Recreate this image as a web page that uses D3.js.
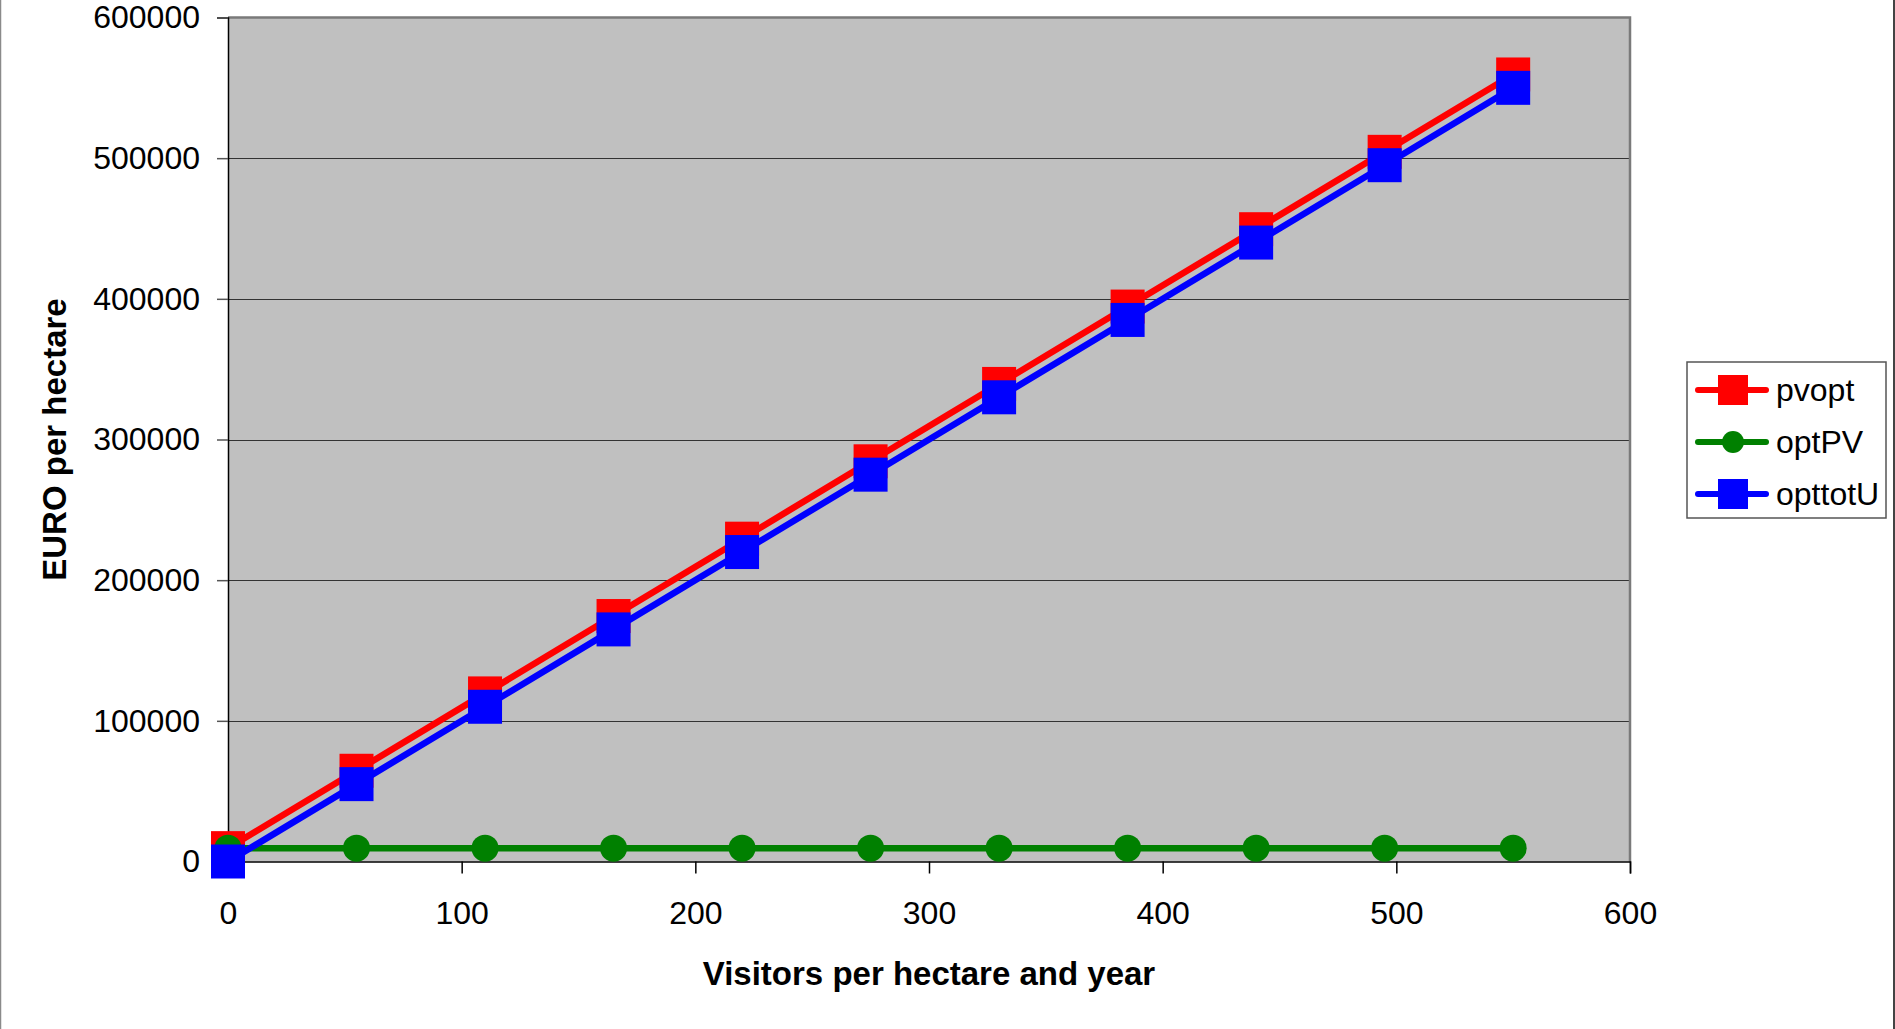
<!DOCTYPE html>
<html>
<head>
<meta charset="utf-8">
<script src="https://cdn.jsdelivr.net/npm/d3@7"></script>
<style>
  html, body { margin: 0; padding: 0; background: #ffffff; }
  svg { display: block; font-family: "Liberation Sans", Arial, sans-serif; }
</style>
</head>
<body>
<svg id="chart" width="1895" height="1029"></svg>
<script>
// Visitors per hectare and year
const visitors = [0, 55, 110, 165, 220, 275, 330, 385, 440, 495, 550];
// Series values (EURO per hectare)
const pvopt    = [9500, 64500, 119500, 174500, 229500, 284500, 339500, 394500, 449500, 504500, 559500];
const optPV    = [9500, 9500, 9500, 9500, 9500, 9500, 9500, 9500, 9500, 9500, 9500];
const opttotU  = [0, 55000, 110000, 165000, 220000, 275000, 330000, 385000, 440000, 495000, 550000];
// Axis ticks
const xTicks = [0, 100, 200, 300, 400, 500, 600];
const yTicks = [0, 100000, 200000, 300000, 400000, 500000, 600000];

const series = [
  { name: "pvopt",   values: pvopt,   color: "#ff0000", marker: "square" },
  { name: "optPV",   values: optPV,   color: "#008000", marker: "circle" },
  { name: "opttotU", values: opttotU, color: "#0000ff", marker: "square" }
];

const svg = d3.select("#chart");
const plot = { left: 228, right: 1630, top: 17.5, bottom: 861.5 };

const x = d3.scaleLinear().domain([0, 600]).range([plot.left, plot.right]);
const y = d3.scaleLinear().domain([0, 600000]).range([plot.bottom, plot.top]);

// outer frame edges
svg.append("line").attr("x1", 0.5).attr("x2", 0.5).attr("y1", 0).attr("y2", 1029)
  .attr("stroke", "#8a8a8a").attr("stroke-width", 1.5);
svg.append("line").attr("x1", 1894).attr("x2", 1894).attr("y1", 0).attr("y2", 1029)
  .attr("stroke", "#444").attr("stroke-width", 2);

// plot area
svg.append("rect")
  .attr("x", plot.left).attr("y", plot.top)
  .attr("width", plot.right - plot.left).attr("height", plot.bottom - plot.top)
  .attr("fill", "#c0c0c0");

// horizontal gridlines
svg.append("g").selectAll("line").data(yTicks.filter(d => d > 0 && d < 600000)).join("line")
  .attr("x1", plot.left).attr("x2", plot.right)
  .attr("y1", d => Math.round(y(d)) + 0.5).attr("y2", d => Math.round(y(d)) + 0.5)
  .attr("stroke", "#333").attr("stroke-width", 1);

// plot border (top and right)
svg.append("path")
  .attr("d", `M${plot.left},${plot.top}H${plot.right}V${plot.bottom}`)
  .attr("fill", "none").attr("stroke", "#7a7a7a").attr("stroke-width", 2.5);

// y axis
const yAxis = d3.axisLeft(y).tickValues(yTicks).tickSize(11).tickPadding(17)
  .tickFormat(d3.format("d"));
const gy = svg.append("g").attr("transform", `translate(${plot.left},0)`).call(yAxis);
gy.select(".domain").attr("stroke", "#000").attr("stroke-width", 1.5);
gy.selectAll(".tick line").attr("stroke", "#555").attr("stroke-width", 1.5);
gy.selectAll(".tick text").attr("font-size", 32).attr("fill", "#000")
  .attr("font-family", "Liberation Sans, Arial, sans-serif");

// x axis
const xAxis = d3.axisBottom(x).tickValues(xTicks).tickSize(12).tickPadding(28)
  .tickFormat(d3.format("d"));
const gx = svg.append("g").attr("transform", `translate(0,${plot.bottom})`).call(xAxis);
gx.select(".domain").attr("stroke", "#000").attr("stroke-width", 1.5);
gx.selectAll(".tick line").attr("stroke", "#000").attr("stroke-width", 1.5);
gx.selectAll(".tick text").attr("font-size", 32).attr("fill", "#000")
  .attr("font-family", "Liberation Sans, Arial, sans-serif");

// axis titles
svg.append("text")
  .attr("x", (plot.left + plot.right) / 2).attr("y", 985)
  .attr("text-anchor", "middle").attr("font-size", 33).attr("font-weight", "bold")
  .text("Visitors per hectare and year");
svg.append("text")
  .attr("transform", `translate(66,${(plot.top + plot.bottom) / 2}) rotate(-90)`)
  .attr("text-anchor", "middle").attr("font-size", 33).attr("font-weight", "bold")
  .text("EURO per hectare");

// series: line then markers, drawn in order
const line = d3.line().x((d, i) => x(visitors[i])).y(d => y(d));
const SQ = 34, R = 13.5;

series.forEach(s => {
  const g = svg.append("g");
  g.append("path").attr("d", line(s.values))
    .attr("fill", "none").attr("stroke", s.color).attr("stroke-width", 6.5)
    .attr("stroke-linejoin", "round");
  if (s.marker === "square") {
    g.selectAll("rect").data(s.values).join("rect")
      .attr("x", (d, i) => x(visitors[i]) - SQ / 2)
      .attr("y", d => y(d) - SQ / 2)
      .attr("width", SQ).attr("height", SQ)
      .attr("fill", s.color);
  } else {
    g.selectAll("circle").data(s.values).join("circle")
      .attr("cx", (d, i) => x(visitors[i]))
      .attr("cy", d => y(d))
      .attr("r", R).attr("fill", s.color);
  }
});

// legend
const legend = svg.append("g");
legend.append("rect")
  .attr("x", 1687).attr("y", 362).attr("width", 199).attr("height", 156)
  .attr("fill", "#fff").attr("stroke", "#555").attr("stroke-width", 1.5);
const rowY = [390, 442, 494];
series.forEach((s, i) => {
  const cy = rowY[i];
  legend.append("line").attr("x1", 1698).attr("x2", 1766).attr("y1", cy).attr("y2", cy)
    .attr("stroke", s.color).attr("stroke-width", 6).attr("stroke-linecap", "round");
  if (s.marker === "square") {
    legend.append("rect").attr("x", 1733 - 15).attr("y", cy - 15)
      .attr("width", 30).attr("height", 30).attr("fill", s.color);
  } else {
    legend.append("circle").attr("cx", 1733).attr("cy", cy).attr("r", 11).attr("fill", s.color);
  }
  legend.append("text").attr("x", 1776).attr("y", cy + 11)
    .attr("font-size", 32).attr("fill", "#000").text(s.name);
});
</script>
</body>
</html>
